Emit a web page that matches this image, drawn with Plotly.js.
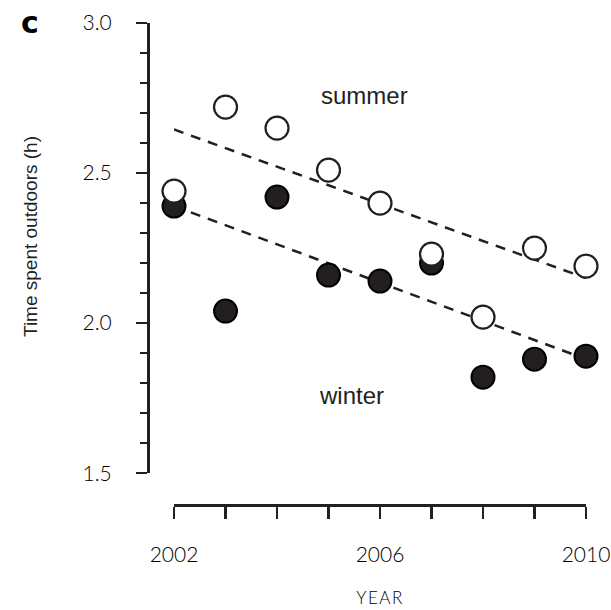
<!DOCTYPE html>
<html>
<head>
<meta charset="utf-8">
<script src="https://cdn.plot.ly/plotly-3.0.1.min.js"></script>
<style>
  html, body { margin: 0; padding: 0; background: #fff; }
  #chart { width: 611px; height: 610px; }
  .xtitle { letter-spacing: 1.5px; }
</style>
</head>
<body>
<div id="chart"></div>
<script>
// Data
const years = [2002, 2003, 2004, 2005, 2006, 2007, 2008, 2009, 2010];
const summer = [2.44, 2.72, 2.65, 2.51, 2.40, 2.23, 2.02, 2.25, 2.19];
const winter = [2.39, 2.04, 2.42, 2.16, 2.14, 2.20, 1.82, 1.88, 1.89];
const trendYears = [2002, 2010];
const summerTrend = [2.645, 2.15];
const winterTrend = [2.39, 1.88];
const xTickVals = [2002, 2003, 2004, 2005, 2006, 2007, 2008, 2009, 2010];
const xTickText = ['2002', '', '', '', '2006', '', '', '', '2010'];
const yTickVals = [1.5, 2.0, 2.5, 3.0];
const yTickText = ['1.5', '2.0', '2.5', '3.0'];

const ink = '#231f20';
const tickFont = { family: 'Lato, "Noto Sans", sans-serif', size: 21, color: '#000', weight: 300 };
const labelFont = { family: '"Liberation Sans", Arial, sans-serif', size: 24, color: ink };

const traces = [
  {
    x: trendYears, y: summerTrend, mode: 'lines', type: 'scatter',
    line: { color: ink, width: 2.5, dash: '10px,8px' }, hoverinfo: 'skip', cliponaxis: false
  },
  {
    x: trendYears, y: winterTrend, mode: 'lines', type: 'scatter',
    line: { color: ink, width: 2.5, dash: '10px,8px' }, hoverinfo: 'skip', cliponaxis: false
  },
  {
    x: years, y: winter, mode: 'markers', type: 'scatter', name: 'winter',
    marker: { size: 23, color: ink, line: { color: '#000', width: 2 } }, cliponaxis: false
  },
  {
    x: years, y: summer, mode: 'markers', type: 'scatter', name: 'summer',
    marker: { size: 23, color: '#fff', line: { color: ink, width: 2.2 } }, cliponaxis: false
  }
];

const plotW = 611 - 148 - 25;
const plotH = 610 - 23 - 105;

const layout = {
  width: 611, height: 610,
  margin: { l: 148, r: 25, t: 23, b: 105, pad: 0 },
  paper_bgcolor: '#fff', plot_bgcolor: '#fff',
  showlegend: false,
  xaxis: {
    domain: [0.0594, 1], range: [2002, 2010], anchor: 'free', position: 0,
    tickmode: 'array', tickvals: xTickVals, ticktext: xTickText,
    ticks: 'outside', ticklen: 12, tickwidth: 2.5, tickcolor: ink,
    showline: true, linewidth: 2.5, linecolor: ink,
    showgrid: false, zeroline: false,
    tickfont: tickFont, ticklabelstandoff: 18,
    title: { text: 'YEAR', font: { family: 'Lato, "Noto Sans", sans-serif', size: 17, color: '#000', weight: 300 }, standoff: 27 }
  },
  yaxis: {
    domain: [0.066, 1], range: [1.5, 3.0], anchor: 'free', position: 0,
    tickmode: 'array', tickvals: yTickVals, ticktext: yTickText,
    ticks: 'outside', ticklen: 11, tickwidth: 2.5, tickcolor: ink,
    minor: { dtick: 0.1, tick0: 1.5, ticks: 'outside', ticklen: 7, tickwidth: 2.5, tickcolor: ink, showgrid: false },
    showline: true, linewidth: 2.5, linecolor: ink,
    showgrid: false, zeroline: false,
    tickfont: tickFont, ticklabelstandoff: 20
  },
  annotations: [
    { text: 'summer', x: 2005.7, y: 2.76, xref: 'x', yref: 'y', showarrow: false, font: labelFont },
    { text: 'winter', x: 2005.45, y: 1.76, xref: 'x', yref: 'y', showarrow: false, font: labelFont },
    { text: 'Time spent outdoors (h)', textangle: -90,
      x: (30 - 148) / plotW, y: 1 - (237 - 23) / plotH, xref: 'paper', yref: 'paper',
      xanchor: 'center', yanchor: 'middle', showarrow: false,
      font: { family: '"Liberation Sans", Arial, sans-serif', size: 19, color: ink } },
    { text: '<b>c</b>', x: (30 - 148) / plotW, y: 1 - (22 - 23) / plotH, xref: 'paper', yref: 'paper',
      xanchor: 'center', yanchor: 'middle', showarrow: false,
      font: { family: '"DejaVu Sans", sans-serif', size: 30, color: '#000', weight: 900 } }
  ]
};

Plotly.newPlot('chart', traces, layout, { displayModeBar: false, staticPlot: true });
</script>
</body>
</html>
